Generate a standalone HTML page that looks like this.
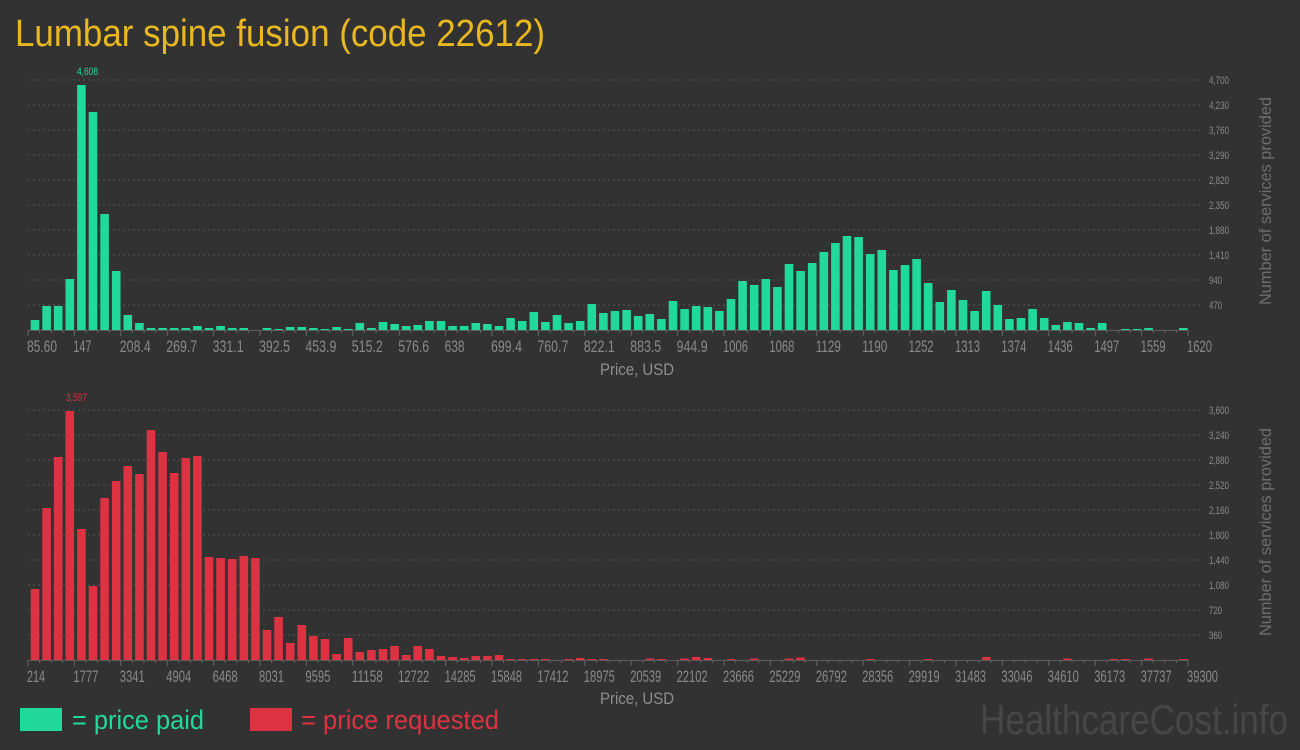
<!DOCTYPE html>
<html><head><meta charset="utf-8"><style>
html,body{margin:0;padding:0;background:#323232;}
svg{display:block;}
text{font-family:"Liberation Sans Narrow","Liberation Sans",sans-serif;}
</style></head><body>
<svg id="s" width="1300" height="750" xmlns="http://www.w3.org/2000/svg">
<rect width="1300" height="750" fill="#323232"/>
<text x="15" y="46" font-size="38" fill="#e9b820" textLength="530" lengthAdjust="spacingAndGlyphs">Lumbar spine fusion (code 22612)</text>
<g id="grid"></g>
<g id="bars"></g>
<g font-size="17" fill="#8a8a8a">
<text x="27" y="352" textLength="30" lengthAdjust="spacingAndGlyphs">85.60</text>
<text x="73.4" y="352" textLength="18" lengthAdjust="spacingAndGlyphs">147</text>
<text x="119.8" y="352" textLength="31" lengthAdjust="spacingAndGlyphs">208.4</text>
<text x="166.2" y="352" textLength="31" lengthAdjust="spacingAndGlyphs">269.7</text>
<text x="212.6" y="352" textLength="31" lengthAdjust="spacingAndGlyphs">331.1</text>
<text x="259" y="352" textLength="31" lengthAdjust="spacingAndGlyphs">392.5</text>
<text x="305.4" y="352" textLength="31" lengthAdjust="spacingAndGlyphs">453.9</text>
<text x="351.8" y="352" textLength="31" lengthAdjust="spacingAndGlyphs">515.2</text>
<text x="398.2" y="352" textLength="31" lengthAdjust="spacingAndGlyphs">576.6</text>
<text x="444.6" y="352" textLength="20" lengthAdjust="spacingAndGlyphs">638</text>
<text x="491" y="352" textLength="31" lengthAdjust="spacingAndGlyphs">699.4</text>
<text x="537.4" y="352" textLength="31" lengthAdjust="spacingAndGlyphs">760.7</text>
<text x="583.8" y="352" textLength="31" lengthAdjust="spacingAndGlyphs">822.1</text>
<text x="630.2" y="352" textLength="31" lengthAdjust="spacingAndGlyphs">883.5</text>
<text x="676.6" y="352" textLength="31" lengthAdjust="spacingAndGlyphs">944.9</text>
<text x="723" y="352" textLength="25" lengthAdjust="spacingAndGlyphs">1006</text>
<text x="769.4" y="352" textLength="25" lengthAdjust="spacingAndGlyphs">1068</text>
<text x="815.8" y="352" textLength="25" lengthAdjust="spacingAndGlyphs">1129</text>
<text x="862.2" y="352" textLength="25" lengthAdjust="spacingAndGlyphs">1190</text>
<text x="908.6" y="352" textLength="25" lengthAdjust="spacingAndGlyphs">1252</text>
<text x="955" y="352" textLength="25" lengthAdjust="spacingAndGlyphs">1313</text>
<text x="1001.4" y="352" textLength="25" lengthAdjust="spacingAndGlyphs">1374</text>
<text x="1047.8" y="352" textLength="25" lengthAdjust="spacingAndGlyphs">1436</text>
<text x="1094.2" y="352" textLength="25" lengthAdjust="spacingAndGlyphs">1497</text>
<text x="1140.6" y="352" textLength="25" lengthAdjust="spacingAndGlyphs">1559</text>
<text x="1187" y="352" textLength="25" lengthAdjust="spacingAndGlyphs">1620</text>
</g>
<g font-size="17" fill="#8a8a8a">
<text x="27" y="682" textLength="18" lengthAdjust="spacingAndGlyphs">214</text>
<text x="73.4" y="682" textLength="25" lengthAdjust="spacingAndGlyphs">1777</text>
<text x="119.8" y="682" textLength="25" lengthAdjust="spacingAndGlyphs">3341</text>
<text x="166.2" y="682" textLength="25" lengthAdjust="spacingAndGlyphs">4904</text>
<text x="212.6" y="682" textLength="25" lengthAdjust="spacingAndGlyphs">6468</text>
<text x="259" y="682" textLength="25" lengthAdjust="spacingAndGlyphs">8031</text>
<text x="305.4" y="682" textLength="25" lengthAdjust="spacingAndGlyphs">9595</text>
<text x="351.8" y="682" textLength="31" lengthAdjust="spacingAndGlyphs">11158</text>
<text x="398.2" y="682" textLength="31" lengthAdjust="spacingAndGlyphs">12722</text>
<text x="444.6" y="682" textLength="31" lengthAdjust="spacingAndGlyphs">14285</text>
<text x="491" y="682" textLength="31" lengthAdjust="spacingAndGlyphs">15848</text>
<text x="537.4" y="682" textLength="31" lengthAdjust="spacingAndGlyphs">17412</text>
<text x="583.8" y="682" textLength="31" lengthAdjust="spacingAndGlyphs">18975</text>
<text x="630.2" y="682" textLength="31" lengthAdjust="spacingAndGlyphs">20539</text>
<text x="676.6" y="682" textLength="31" lengthAdjust="spacingAndGlyphs">22102</text>
<text x="723" y="682" textLength="31" lengthAdjust="spacingAndGlyphs">23666</text>
<text x="769.4" y="682" textLength="31" lengthAdjust="spacingAndGlyphs">25229</text>
<text x="815.8" y="682" textLength="31" lengthAdjust="spacingAndGlyphs">26792</text>
<text x="862.2" y="682" textLength="31" lengthAdjust="spacingAndGlyphs">28356</text>
<text x="908.6" y="682" textLength="31" lengthAdjust="spacingAndGlyphs">29919</text>
<text x="955" y="682" textLength="31" lengthAdjust="spacingAndGlyphs">31483</text>
<text x="1001.4" y="682" textLength="31" lengthAdjust="spacingAndGlyphs">33046</text>
<text x="1047.8" y="682" textLength="31" lengthAdjust="spacingAndGlyphs">34610</text>
<text x="1094.2" y="682" textLength="31" lengthAdjust="spacingAndGlyphs">36173</text>
<text x="1140.6" y="682" textLength="31" lengthAdjust="spacingAndGlyphs">37737</text>
<text x="1187" y="682" textLength="31" lengthAdjust="spacingAndGlyphs">39300</text>
</g>
<g font-size="11" fill="#8a8a8a">
<text x="1209" y="84" textLength="20" lengthAdjust="spacingAndGlyphs">4,700</text>
<text x="1209" y="109" textLength="20" lengthAdjust="spacingAndGlyphs">4,230</text>
<text x="1209" y="134" textLength="20" lengthAdjust="spacingAndGlyphs">3,760</text>
<text x="1209" y="159" textLength="20" lengthAdjust="spacingAndGlyphs">3,290</text>
<text x="1209" y="184" textLength="20" lengthAdjust="spacingAndGlyphs">2,820</text>
<text x="1209" y="209" textLength="20" lengthAdjust="spacingAndGlyphs">2,350</text>
<text x="1209" y="234" textLength="20" lengthAdjust="spacingAndGlyphs">1,880</text>
<text x="1209" y="259" textLength="20" lengthAdjust="spacingAndGlyphs">1,410</text>
<text x="1209" y="284" textLength="13" lengthAdjust="spacingAndGlyphs">940</text>
<text x="1209" y="309" textLength="13" lengthAdjust="spacingAndGlyphs">470</text>
<text x="1209" y="414" textLength="20" lengthAdjust="spacingAndGlyphs">3,600</text>
<text x="1209" y="439" textLength="20" lengthAdjust="spacingAndGlyphs">3,240</text>
<text x="1209" y="464" textLength="20" lengthAdjust="spacingAndGlyphs">2,880</text>
<text x="1209" y="489" textLength="20" lengthAdjust="spacingAndGlyphs">2,520</text>
<text x="1209" y="514" textLength="20" lengthAdjust="spacingAndGlyphs">2,160</text>
<text x="1209" y="539" textLength="20" lengthAdjust="spacingAndGlyphs">1,800</text>
<text x="1209" y="564" textLength="20" lengthAdjust="spacingAndGlyphs">1,440</text>
<text x="1209" y="589" textLength="20" lengthAdjust="spacingAndGlyphs">1,080</text>
<text x="1209" y="614" textLength="13" lengthAdjust="spacingAndGlyphs">720</text>
<text x="1209" y="639" textLength="13" lengthAdjust="spacingAndGlyphs">360</text>
</g>
<text x="77" y="75" font-size="11" fill="#21d99b" textLength="21" lengthAdjust="spacingAndGlyphs">4,608</text>
<text x="66" y="401" font-size="11" fill="#dc3242" textLength="21" lengthAdjust="spacingAndGlyphs">3,597</text>
<text transform="translate(1271,201) rotate(-90)" text-anchor="middle" font-size="17" fill="#6e6e6e" font-family="Liberation Sans, sans-serif" textLength="208" lengthAdjust="spacingAndGlyphs">Number of services provided</text>
<text transform="translate(1271,532) rotate(-90)" text-anchor="middle" font-size="17" fill="#6e6e6e" font-family="Liberation Sans, sans-serif" textLength="208" lengthAdjust="spacingAndGlyphs">Number of services provided</text>
<text x="600" y="375" font-size="17" fill="#8f8f8f" textLength="74" lengthAdjust="spacingAndGlyphs">Price, USD</text>
<text x="600" y="704" font-size="17" fill="#8f8f8f" textLength="74" lengthAdjust="spacingAndGlyphs">Price, USD</text>
<rect x="20" y="708" width="42" height="23" fill="#21d99b"/>
<text x="72" y="729" font-size="27" fill="#21d99b" textLength="132" lengthAdjust="spacingAndGlyphs">= price paid</text>
<rect x="250" y="708" width="42" height="23" fill="#dc3242"/>
<text x="301" y="729" font-size="27" fill="#dc3242" textLength="198" lengthAdjust="spacingAndGlyphs">= price requested</text>
<text x="980" y="734" font-size="42" fill="#474747" textLength="308" lengthAdjust="spacingAndGlyphs">HealthcareCost.info</text>
</svg>
<script>
(function(){
var NS="http://www.w3.org/2000/svg";
var g=document.getElementById("grid"),b=document.getElementById("bars");
function el(p,t,a){var e=document.createElementNS(NS,t);for(var k in a)e.setAttribute(k,a[k]);p.appendChild(e);return e;}
[80,410].forEach(function(ty){
 for(var k=0;k<10;k++){var y=ty+25*k;el(g,"line",{x1:28,x2:1200,y1:y,y2:y,stroke:"#555","stroke-width":1,"stroke-dasharray":"2,3"});}
 var base=ty+250;
 el(g,"line",{x1:28,x2:1188,y1:base+0.5,y2:base+0.5,stroke:"#5a5a5a","stroke-width":1});
 for(var j=0;j<=100;j++){var x=28+11.6*j;var maj=(j%4==0);
  el(g,"line",{x1:x,x2:x,y1:base,y2:base+(maj?6:3),stroke:"#666","stroke-width":1});}
});
var topD=[10,24,24,51,245,218,116,59,15,7,2,2,2,2,4,2,4,2,2,0,2,1,3,3,2,1,3,1,7,2,8,6,4,5,9,9,4,4,7,6,4,12,9,18,8,15,7,9,26,17,19,20,14,16,11,29,21,24,23,19,31,49,45,51,43,66,59,67,78,87,94,93,76,80,60,65,71,47,28,40,30,19,39,25,11,12,21,12,5,8,7,2,7,0,1,1,2,0,0,2];
var botD=[71,152,203,249,131,74,162,179,194,186,230,208,187,202,204,103,102,101,104,102,30,43,17,35,24,21,6,22,8,10,11,14,5,14,11,4,3,2,4,4,5,1,1,1,1,0,1,2,1,1];
for(var i=botD.length;i<100;i++)botD.push(0);
var sp={54:1.5,55:1,57:1.5,58:3,59:2,61:1,63:1.5,66:1.5,67:2.5,73:1,78:1,83:3,90:1.5,94:1,95:1,97:1.5,100:1};
for(var k in sp)botD[k-1]=sp[k];
function draw(arr,base,col){arr.forEach(function(h,i){if(h<=0)return;var cx=35+11.6*i;
 el(b,"rect",{x:cx-4.3,y:base-h,width:8.6,height:h,fill:col});});}
draw(topD,330,"#21d99b");draw(botD,660,"#dc3242");
})();
</script>
</body></html>
